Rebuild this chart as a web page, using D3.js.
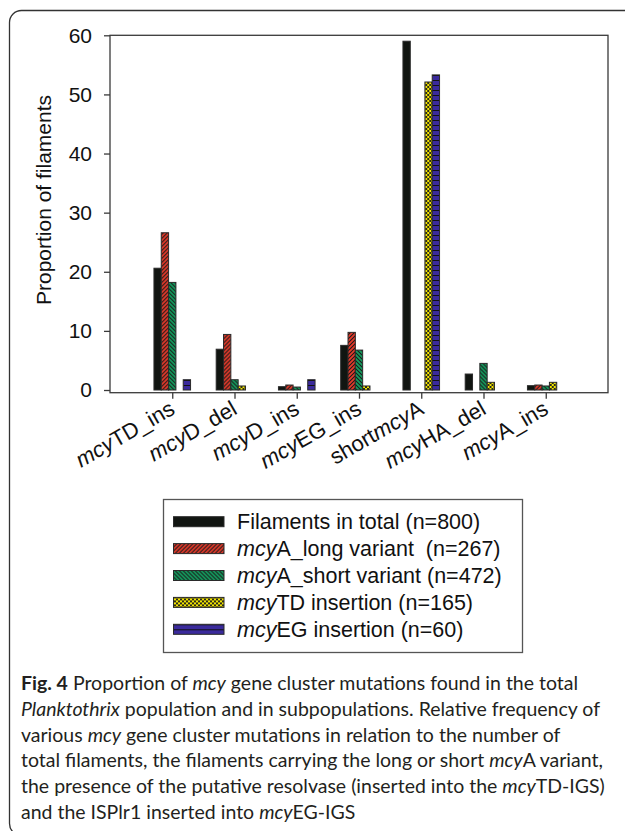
<!DOCTYPE html>
<html>
<head>
<meta charset="utf-8">
<script src="https://cdn.jsdelivr.net/npm/d3@7"></script>
<style>
  body { margin: 0; background: #fff; }
  svg text { white-space: pre; }
</style>
</head>
<body>
<div id="chart"></div>
<script>
// categories on the x axis
const categories = ['mcyTD_ins', 'mcyD_del', 'mcyD_ins', 'mcyEG_ins', 'shortmcyA', 'mcyHA_del', 'mcyA_ins'];

const seriesNames = ['total', 'long', 'short', 'td', 'eg'];

// proportions (%)
const totalValues = [20.6, 6.9, 0.56, 7.55, 59.0, 2.7, 0.73];
const longValues  = [26.6, 9.4, 0.84, 9.75, 0, 0, 0.84];
const shortValues = [18.2, 1.74, 0.5, 6.75, 0, 4.5, 0.68];
const tdValues    = [0, 0.68, 0, 0.68, 52.1, 1.3, 1.3];
const egValues    = [1.74, 0, 1.74, 0, 53.3, 0, 0];

const yTicks = [0, 10, 20, 30, 40, 50, 60];

const legendLabels = [
  ['', 'Filaments in total (n=800)'],
  ['mcy', 'A_long variant  (n=267)'],
  ['mcy', 'A_short variant (n=472)'],
  ['mcy', 'TD insertion (n=165)'],
  ['mcy', 'EG insertion (n=60)']
];

// caption lines, each a list of [text, style]
const captionLines = [
  [['Fig. 4', 'b'], [' Proportion of ', ''], ['mcy', 'i'], [' gene cluster mutations found in the total', '']],
  [['Planktothrix', 'i'], [' population and in subpopulations. Relative frequency of', '']],
  [['various ', ''], ['mcy', 'i'], [' gene cluster mutations in relation to the number of', '']],
  [['total filaments, the filaments carrying the long or short ', ''], ['mcy', 'i'], ['A variant,', '']],
  [['the presence of the putative resolvase (inserted into the ', ''], ['mcy', 'i'], ['TD-IGS)', '']],
  [['and the ISPlr1 inserted into ', ''], ['mcy', 'i'], ['EG-IGS', '']]
];

const table = categories.map((c, i) => ({
  category: c,
  values: [totalValues[i], longValues[i], shortValues[i], tdValues[i], egValues[i]]
}));

const W = 625, H = 831;
const svg = d3.select('#chart').append('svg')
  .attr('width', W).attr('height', H)
  .style('font-family', '"Liberation Sans", Arial, sans-serif');

// patterns
const defs = svg.append('defs');
function pat(id, size, bg, draw) {
  const p = defs.append('pattern').attr('id', id)
    .attr('patternUnits', 'userSpaceOnUse').attr('width', size).attr('height', size);
  p.append('rect').attr('width', size).attr('height', size).attr('fill', bg);
  draw(p);
}
pat('p-long', 4, '#e83a2a', p => {
  p.append('path').attr('d', 'M0,4 L4,0 M-1,1 L1,-1 M3,5 L5,3').attr('stroke', '#1a1a1a').attr('stroke-width', 1.1);
});
pat('p-short', 4, '#12a060', p => {
  p.append('path').attr('d', 'M0,0 L4,4 M-1,3 L1,5 M3,-1 L5,1').attr('stroke', '#1a1a1a').attr('stroke-width', 1.1);
});
pat('p-td', 4, '#f4e600', p => {
  p.append('rect').attr('x', 0).attr('y', 0).attr('width', 2).attr('height', 2).attr('fill', '#2a2a1a');
  p.append('rect').attr('x', 2).attr('y', 2).attr('width', 2).attr('height', 2).attr('fill', '#2a2a1a');
});
pat('p-eg', 5, '#3a2a9c', p => {
  p.append('path').attr('d', 'M0,0.5 H5').attr('stroke', '#111').attr('stroke-width', 1);
});

const fills = {
  total: '#111511',
  long: 'url(#p-long)',
  short: 'url(#p-short)',
  td: 'url(#p-td)',
  eg: 'url(#p-eg)'
};

// outer rounded frame
svg.append('rect')
  .attr('x', 9.5).attr('y', 10.5).attr('width', 630).attr('height', 825)
  .attr('rx', 12).attr('fill', 'none').attr('stroke', '#333').attr('stroke-width', 1.3);

// plot area
const pLeft = 110, pRight = 608, pTop = 35.3, pBottom = 392.7;

const x = d3.scalePoint().domain(categories).range([pLeft, pRight]).padding(1);
const inner = d3.scaleBand().domain(seriesNames).range([-18.3, 18.3]);
const y = d3.scaleLinear().domain([0, 60]).range([390, pTop]);

const g = svg.append('g');

// frame
g.append('rect')
  .attr('x', pLeft).attr('y', pTop).attr('width', pRight - pLeft).attr('height', pBottom - pTop)
  .attr('fill', 'none').attr('stroke', '#3a3a3a').attr('stroke-width', 1.3);

// y axis
const yAxis = g.append('g')
  .attr('transform', `translate(${pLeft},0)`)
  .call(d3.axisLeft(y).tickValues(yTicks).tickSize(6).tickPadding(12));
yAxis.select('.domain').remove();
yAxis.selectAll('line').attr('stroke', '#3a3a3a').attr('stroke-width', 1.3);
yAxis.selectAll('text').attr('font-size', 21).attr('fill', '#111')
  .attr('font-family', '"Liberation Sans", Arial, sans-serif');

// x axis ticks
const xAxis = g.append('g')
  .attr('transform', `translate(0,${pBottom})`)
  .call(d3.axisBottom(x).tickSize(6).tickFormat(''));
xAxis.select('.domain').remove();
xAxis.selectAll('line').attr('stroke', '#3a3a3a').attr('stroke-width', 1.3);

// x labels
function splitLabel(c) {
  const i = c.indexOf('mcy');
  return [c.slice(0, i), 'mcy', c.slice(i + 3)];
}
const xl = g.append('g').selectAll('text').data(categories).enter().append('text')
  .attr('transform', d => `translate(${x(d) + 4},413) rotate(-30)`)
  .attr('text-anchor', 'end')
  .attr('font-size', 22)
  .attr('fill', '#111');
xl.each(function(d) {
  const parts = splitLabel(d);
  const t = d3.select(this);
  if (parts[0]) t.append('tspan').text(parts[0]);
  t.append('tspan').attr('font-style', 'italic').text(parts[1]);
  t.append('tspan').text(parts[2]);
});

// y title
g.append('text')
  .attr('transform', 'translate(51,200) rotate(-90)')
  .attr('text-anchor', 'middle')
  .attr('font-size', 21)
  .attr('fill', '#111')
  .text('Proportion of filaments');

// bars
const groups = g.append('g').selectAll('g').data(table).enter().append('g')
  .attr('transform', d => `translate(${x(d.category)},0)`);
groups.selectAll('rect')
  .data(d => d.values.map((v, i) => ({ key: seriesNames[i], value: v })).filter(e => e.value > 0))
  .enter().append('rect')
  .attr('x', d => inner(d.key))
  .attr('width', inner.bandwidth())
  .attr('y', d => y(d.value))
  .attr('height', d => y(0) - y(d.value))
  .attr('fill', d => fills[d.key])
  .attr('stroke', '#2a2a2a')
  .attr('stroke-width', 1);

// legend
const lg = svg.append('g');
lg.append('rect')
  .attr('x', 163.5).attr('y', 499.5).attr('width', 359).attr('height', 153)
  .attr('fill', '#fff').attr('stroke', '#555').attr('stroke-width', 1.3);
const ly = d3.scalePoint().domain(seriesNames).range([521.7, 629.3]);
const rows = lg.selectAll('g.row').data(seriesNames).enter().append('g')
  .attr('transform', d => `translate(0,${ly(d)})`);
rows.append('rect')
  .attr('x', 173.5).attr('y', -5).attr('width', 50.5).attr('height', 10)
  .attr('fill', d => fills[d]).attr('stroke', '#2a2a2a').attr('stroke-width', 1);
rows.append('text')
  .attr('x', 237).attr('y', 7.5)
  .attr('font-size', 21.5).attr('fill', '#111')
  .each(function(d, i) {
    const t = d3.select(this);
    const [it, rest] = legendLabels[i];
    if (it) t.append('tspan').attr('font-style', 'italic').text(it);
    t.append('tspan').text(rest);
  });

// caption
const cap = svg.append('g')
  .style('font-family', 'Lato, "Open Sans", sans-serif')
  .attr('font-size', 20).attr('fill', '#231f20');
const capText = cap.selectAll('text').data(captionLines).enter().append('text')
  .attr('x', 21)
  .attr('y', (d, i) => 690 + i * 25.8)
  .each(function(line) {
    const t = d3.select(this);
    line.forEach(([s, st]) => {
      const sp = t.append('tspan').text(s);
      if (st === 'b') sp.attr('font-weight', 'bold');
      if (st === 'i') sp.attr('font-style', 'italic');
    });
  });
// keep the widest line within the width the caption has in the figure
let widest = 0;
capText.each(function() { widest = Math.max(widest, this.getComputedTextLength()); });
cap.attr('font-size', 20 * 584 / widest);
</script>
</body>
</html>
